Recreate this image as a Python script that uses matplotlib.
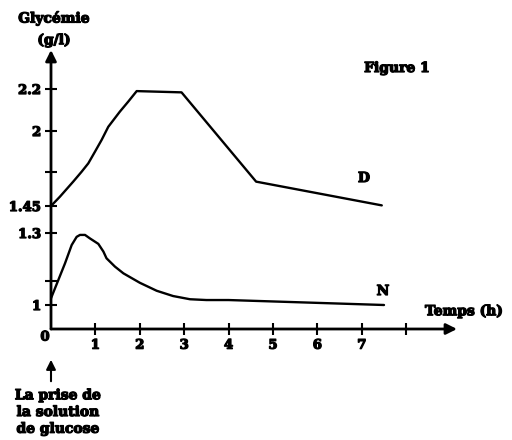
import numpy as np
import matplotlib
matplotlib.use('Agg')
import matplotlib.pyplot as plt
import matplotlib.patheffects as pe

# ---- data ----
time_D = [0, 0.2, 0.5, 0.69, 0.84, 0.99, 1.14, 1.29, 1.55, 1.74, 1.93, 2.94, 4.62, 7.45]
gly_D = [1.45, 1.525, 1.647, 1.727, 1.783, 1.861, 1.94, 2.02, 2.092, 2.14, 2.19,
         2.184, 1.647, 1.455]

time_N = [0, 0.315, 0.466, 0.578, 0.653, 0.766, 0.878, 1.066, 1.18, 1.25, 1.44, 1.63,
          2.0, 2.38, 2.75, 3.13, 3.5, 4.0, 7.5]
gly_N = [1.042, 1.205, 1.2625, 1.288, 1.294, 1.294, 1.283, 1.266, 1.242, 1.221, 1.195,
         1.174, 1.139, 1.089, 1.056, 1.036, 1.031, 1.031, 1.0]

x_ticks = [1, 2, 3, 4, 5, 6, 7, 8]
x_tick_labels = ['1', '2', '3', '4', '5', '6', '7', '']
y_ticks = [1, 1.3, 1.45, 2, 2.2]
y_tick_labels = ['1', '1.3', '1.45', '2', '2.2']
y_minor_ticks = [1.15, 1.725]

# non-uniform hand-drawn y axis: value -> drawn height
knot_vals = [0, 1, 1.15, 1.3, 1.45, 1.725, 2, 2.2, 2.6]
knot_pos = [0, 24, 48, 96, 123, 157, 198, 240, 324]


def fwd(v):
    return np.interp(v, knot_vals, knot_pos)


def inv(p):
    return np.interp(p, knot_pos, knot_vals)


FONT = 'DejaVu Serif'
HEAVY = [pe.withStroke(linewidth=0.9, foreground='black')]
W, H = 512, 440
fig = plt.figure(figsize=(W / 100, H / 100), dpi=100)

x0, x1 = 51, 457     # pixel: x = 0, arrow tip
yb, yt = 329, 50     # pixel: x-axis, arrow tip
ax = fig.add_axes([x0 / W, (H - yb) / H, (x1 - x0) / W, (yb - yt) / H])
ax.set_yscale('function', functions=(fwd, inv))
ax.set_xlim(0, (x1 - x0) / 44.4)
ax.set_ylim(0, inv(yb - yt))

ax.plot(time_D, gly_D, color='black', lw=1.7, solid_joinstyle='round', solid_capstyle='round')
ax.plot(time_N, gly_N, color='black', lw=1.7, solid_joinstyle='round', solid_capstyle='round')

for s in ax.spines.values():
    s.set_visible(False)
ax.annotate('', xy=(1, 0), xytext=(0, 0), xycoords='axes fraction',
            arrowprops=dict(arrowstyle='-|>', lw=2, color='black', mutation_scale=16,
                            shrinkA=0, shrinkB=0), annotation_clip=False)
ax.annotate('', xy=(0, 1), xytext=(0, 0), xycoords='axes fraction',
            arrowprops=dict(arrowstyle='-|>', lw=2, color='black', mutation_scale=16,
                            shrinkA=0, shrinkB=0), annotation_clip=False)

ax.set_xticks(x_ticks)
ax.set_xticklabels(x_tick_labels, fontfamily=FONT, fontweight='bold', fontsize=9.5)
ax.set_yticks(y_ticks)
ax.set_yticklabels(y_tick_labels, fontfamily=FONT, fontweight='bold', fontsize=9.5)
ax.set_yticks(y_minor_ticks, minor=True)
ax.set_xticks([], minor=True)
ax.tick_params(axis='both', which='both', direction='inout', length=8, width=1.5, pad=3)
for lab in ax.get_xticklabels() + ax.get_yticklabels():
    lab.set_path_effects(HEAVY)


def ft(px, py, s, **kw):
    fig.text(px / W, 1 - py / H, s, fontfamily=FONT, fontweight='bold',
             ha=kw.pop('ha', 'center'), va=kw.pop('va', 'center'),
             path_effects=HEAVY, **kw)


ft(54, 18, 'Glycémie', fontsize=10)
ft(54, 40, '(g/l)', fontsize=10)
ft(397, 68, 'Figure 1', fontsize=10)
ft(364, 178, 'D', fontsize=10)
ft(383, 291, 'N', fontsize=10)
ft(464, 311, 'Temps (h)', fontsize=10)
ft(45, 337, '0', fontsize=9.5)
ft(58, 412, 'La prise de\nla solution\nde glucose', fontsize=10, linespacing=1.25)

fig.add_artist(matplotlib.patches.FancyArrowPatch(
    (51 / W, 1 - 384 / H), (51 / W, 1 - 357 / H), transform=fig.transFigure,
    arrowstyle='-|>', mutation_scale=14, lw=1.5, color='black'))

fig.savefig('out.png', dpi=100)
